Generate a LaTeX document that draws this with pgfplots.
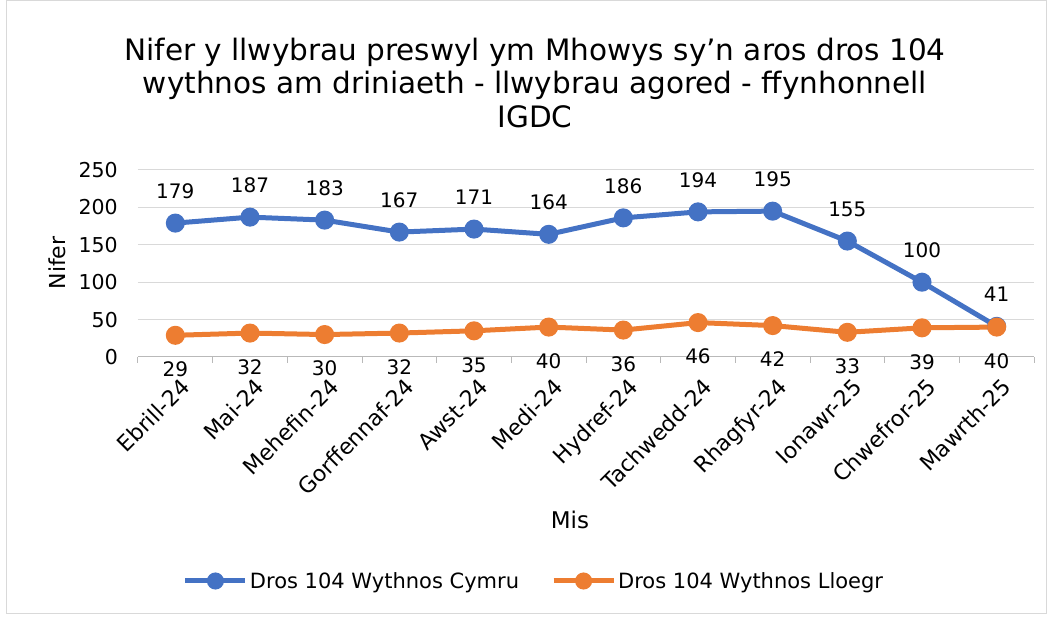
\documentclass[border=0pt]{standalone}
\usepackage{fontspec}
\setmainfont{DejaVu Sans}
\usepackage{pgfplots}
\pgfplotsset{compat=1.18}
\definecolor{cblue}{HTML}{4472C4}
\definecolor{corange}{HTML}{ED7D31}
\definecolor{gridgray}{HTML}{D9D9D9}
\begin{document}
\begin{tikzpicture}[x=1pt,y=1pt]
\useasboundingbox (-138,-260) rectangle (915,357);
\draw[gridgray, line width=1pt] (-131,-257) rectangle (908,356);
\node[align=center, font=\fontsize{29.5}{33.5}\selectfont] at (397,274)
  {Nifer y llwybrau preswyl ym Mhowys sy'n aros dros 104\\
   wythnos am driniaeth - llwybrau agored - ffynhonnell\\
   IGDC};
\begin{axis}[
    at={(0,0)}, anchor=south west,
    scale only axis, width=896pt, height=187pt,
    xmin=-0.5, xmax=11.5, ymin=0, ymax=250,
    ytick={0,50,...,250},
    xtick={0,...,11},
    xticklabels={Ebrill-24,Mai-24,Mehefin-24,Gorffennaf-24,Awst-24,Medi-24,Hydref-24,Tachwedd-24,Rhagfyr-24,Ionawr-25,Chwefror-25,Mawrth-25},
    minor xtick={-0.5,0.5,...,11.5},
    axis x line*=bottom, axis y line*=left,
    y axis line style={draw=none},
    x axis line style={draw=gray!55, line width=1pt, -},
    major tick length=0pt,
    minor tick length=6pt,
    tick align=outside,
    minor x tick style={draw=gray!55, line width=1pt},
    ymajorgrids, grid style={gridgray, line width=1pt},
    /pgf/number format/assume math mode=true,
    yticklabel style={font=\fontsize{20.5}{24}\selectfont, inner sep=0pt, anchor=east, xshift=-20pt},
    xticklabel style={font=\fontsize{22}{26}\selectfont, inner sep=0pt, xshift=4pt, yshift=-20pt, rotate=45, anchor=north east},
    ylabel={Nifer}, ylabel style={font=\fontsize{22}{26}\selectfont, at={(-81pt,94pt)}, anchor=center, rotate=0},
    xlabel={Mis}, xlabel style={font=\fontsize{23}{27}\selectfont, at={(432pt,-163pt)}, anchor=center},
    clip=false,
    legend columns=2,
    legend style={draw=none, at={(396pt,-224pt)}, anchor=center,
      font=\fontsize{21}{24}\selectfont,
      /tikz/every even column/.append style={column sep=30pt},
      cells={anchor=west}},
    legend image code/.code={
      \draw[line width=5pt] (0pt,0pt) -- (60pt,0pt);
      \fill (30pt,0pt) circle (6pt);},
    nodes near coords,
    every node near coord/.append style={font=\fontsize{20}{24}\selectfont, text=black, inner sep=0pt},
]
\addplot[cblue, line width=5pt, mark=*, mark size=7pt,
    every node near coord/.append style={anchor=south, yshift=22pt}]
  coordinates {(0,179) (1,187) (2,183) (3,167) (4,171) (5,164) (6,186) (7,194) (8,195) (9,155) (10,100) (11,41)};
\addplot[corange, line width=5pt, mark=*, mark size=7pt,
    every node near coord/.append style={anchor=north, yshift=-24pt}]
  coordinates {(0,29) (1,32) (2,30) (3,32) (4,35) (5,40) (6,36) (7,46) (8,42) (9,33) (10,39) (11,40)};
\legend{Dros 104 Wythnos Cymru,Dros 104 Wythnos Lloegr}
\end{axis}
\end{tikzpicture}
\end{document}
